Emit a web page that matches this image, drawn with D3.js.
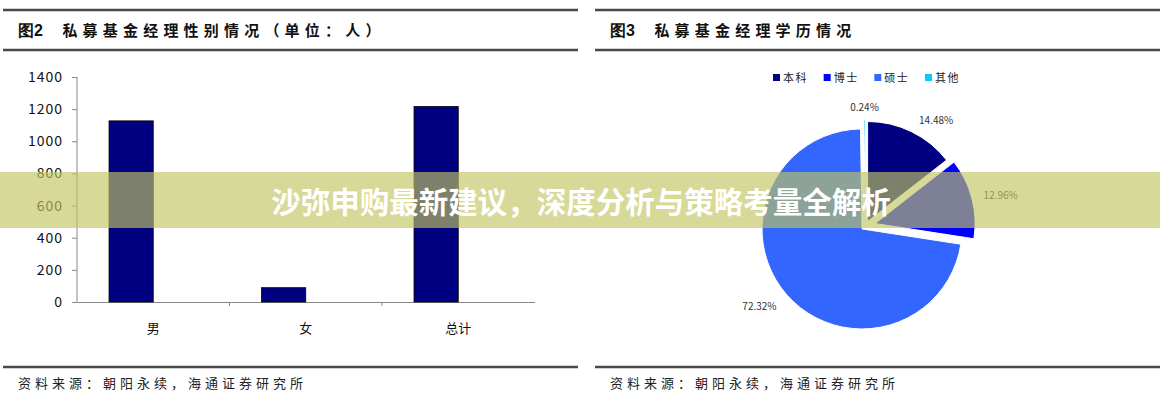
<!DOCTYPE html>
<html><head><meta charset="utf-8">
<script src="https://cdn.jsdelivr.net/npm/d3@7"></script>
<style>
html,body{margin:0;padding:0;background:#fff;}
svg{display:block;}
text{font-family:"Noto Sans CJK SC","Noto Sans",sans-serif;}
</style></head>
<body>
<svg id="c" width="1160" height="400"></svg>
<script>
// ---- data ----
const barCategories = ['男', '女', '总计'];
const barValues = [1127, 89, 1216];
const yTickValues = [0, 200, 400, 600, 800, 1000, 1200, 1400];
const pieCategories = ['本科', '博士', '硕士', '其他'];
const pieValues = [14.48, 12.96, 72.32, 0.24];
const pieLabelTexts = ['14.48%', '12.96%', '72.32%', '0.24%'];
const leftTitleNum = '图2', leftTitle = '私募基金经理性别情况（单位：人）';
const rightTitleNum = '图3', rightTitle = '私募基金经理学历情况';
const sourceText = '资料来源：朝阳永续，海通证券研究所';
const bannerText = '沙弥申购最新建议，深度分析与策略考量全解析';

// ---- style ----
const pieColors = ['#000080', '#0000FF', '#3366FF', '#00CCFF'];
const pieExplode = [5, 10, 4.5, 6];

const svg = d3.select('#c');

// frame lines & titles
function panel(x0, x1, tx, num, title) {
  const g = svg.append('g');
  [10, 50, 367].forEach(y => g.append('line').attr('x1', x0).attr('x2', x1).attr('y1', y).attr('y2', y)
    .attr('stroke', '#4a4a4a').attr('stroke-width', 2.5));
  const t = g.append('text').attr('x', tx).attr('y', 35.5).attr('font-size', 15).attr('font-weight', 'bold').attr('fill', '#111');
  t.append('tspan').text(num).attr('font-family', 'Liberation Sans, Arial, sans-serif').attr('font-size', 16);
  t.append('tspan').attr('dx', 19.5).attr('letter-spacing', 5.2).text(title);
  g.append('text').attr('x', tx).attr('y', 388).attr('font-size', 13).attr('letter-spacing', 4).attr('fill', '#222').text(sourceText);
}
panel(3, 578, 18, leftTitleNum, leftTitle);
panel(595, 1160, 610, rightTitleNum, rightTitle);

// ---- bar chart ----
const x = d3.scaleBand().domain(barCategories).range([77, 534.5]).padding(0);
const y = d3.scaleLinear().domain([0, 1400]).range([302, 77]);
const bw = x.bandwidth();

const yAxis = svg.append('g').attr('transform', 'translate(77,0)')
  .call(d3.axisLeft(y).tickValues(yTickValues).tickSize(5).tickPadding(9).tickFormat(d3.format('d')));
yAxis.select('.domain').attr('stroke', '#888').attr('d', `M-0,${y(1400)}V${y(0)}`);
yAxis.selectAll('.tick line').attr('stroke', '#888');
yAxis.selectAll('.tick text').attr('font-family', 'Liberation Sans, Arial, sans-serif').attr('font-size', 14)
  .attr('letter-spacing', 1).attr('fill', '#111');

const xAxis = svg.append('g').attr('transform', 'translate(0,302)')
  .call(d3.axisBottom(x).tickSize(0).tickPadding(22));
xAxis.select('.domain').attr('stroke', '#888');
xAxis.selectAll('.tick text').attr('font-size', 13).attr('fill', '#111');
// category separators
svg.append('g').selectAll('line').data(barCategories.slice(1)).join('line')
  .attr('x1', d => x(d)).attr('x2', d => x(d)).attr('y1', 302).attr('y2', 306).attr('stroke', '#888');

svg.append('g').selectAll('rect').data(barCategories).join('rect')
  .attr('x', (d) => x(d) + bw * 0.21)
  .attr('width', bw * 0.29)
  .attr('y', (d, i) => y(barValues[i]))
  .attr('height', (d, i) => y(0) - y(barValues[i]))
  .attr('fill', '#000080').attr('stroke', '#000').attr('stroke-width', 0.8);

// ---- pie ----
const cx = 865.4, cy = 226, R = 100;
const pie = d3.pie().sort(null).value(d => d)(pieValues);
const arc = d3.arc().innerRadius(0).outerRadius(R);
const pg = svg.append('g').attr('transform', `translate(${cx},${cy})`);
pie.forEach((p, i) => {
  const m = (p.startAngle + p.endAngle) / 2;
  const dx = Math.sin(m) * pieExplode[i], dy = -Math.cos(m) * pieExplode[i];
  pg.append('path').attr('d', arc(p)).attr('transform', `translate(${dx},${dy})`)
    .attr('fill', pieColors[i]).attr('stroke', '#fff').attr('stroke-width', 1);
  const lr = R + 8;
  const lx = dx + Math.sin(m) * lr, ly = dy - Math.cos(m) * lr;
  const s = Math.sin(m);
  const anchor = s > 0.2 ? 'start' : (s < -0.2 ? 'end' : 'middle');
  pg.append('text').attr('x', lx + (anchor === 'start' ? 4 : anchor === 'end' ? -4 : 0))
    .attr('y', ly + 3.5 - 5 * Math.cos(m) + (Math.cos(m) < -0.3 ? 3 : 0))
    .attr('text-anchor', anchor).attr('font-family', 'Liberation Sans, Arial, sans-serif')
    .attr('font-size', 10).attr('fill', '#333').text(pieLabelTexts[i]);
});

// legend
const lg = svg.append('g').attr('transform', 'translate(773,78)');
const lx = d3.scalePoint().domain(pieCategories).range([0, 152]);
pieCategories.forEach((c, i) => {
  const g = lg.append('g').attr('transform', `translate(${lx(c)},0)`);
  g.append('rect').attr('x', 0).attr('y', -4).attr('width', 7).attr('height', 7).attr('fill', pieColors[i]);
  g.append('text').attr('x', 10).attr('y', 4).attr('font-size', 11).attr('letter-spacing', 1.5).attr('fill', '#222').text(c);
});

// ---- banner overlay ----
svg.append('rect').attr('x', 0).attr('y', 172).attr('width', 1160).attr('height', 56)
  .attr('fill', 'rgb(192,197,96)').attr('fill-opacity', 0.65);
svg.append('text').attr('x', 581).attr('y', 200).attr('text-anchor', 'middle').attr('dominant-baseline', 'central')
  .attr('font-size', 29.5).attr('font-weight', 'bold').attr('fill', '#fff').text(bannerText);
</script>
</body></html>
